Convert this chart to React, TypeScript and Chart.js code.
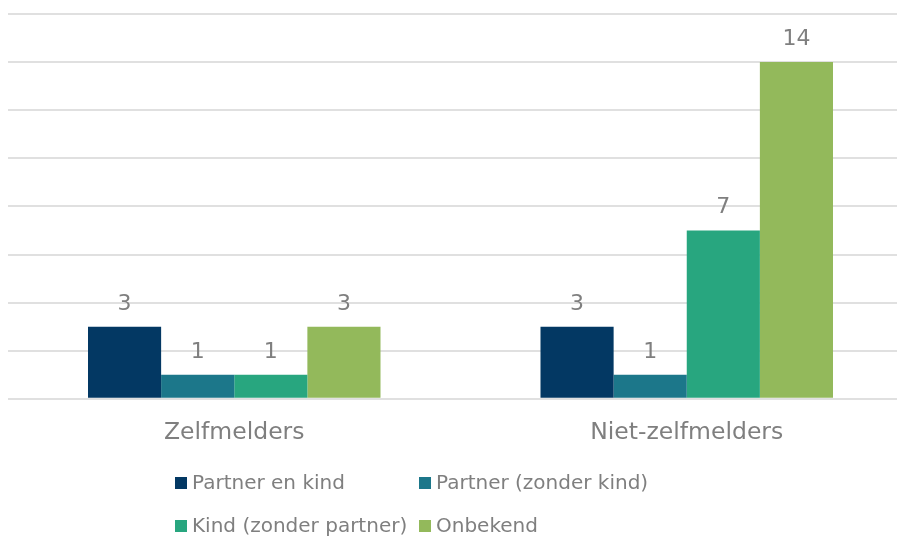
import React, { useEffect, useRef } from "react";
import { Chart, registerables } from "chart.js";

Chart.register(...registerables);

const categories = ["Zelfmelders", "Niet-zelfmelders"];
const seriesNames = ["Partner en kind", "Partner (zonder kind)", "Kind (zonder partner)", "Onbekend"];
const partnerEnKind = [3, 3];
const partnerZonderKind = [1, 1];
const kindZonderPartner = [1, 7];
const onbekend = [3, 14];
const seriesColors = ["#033863", "#1c778a", "#28a67f", "#93b95b"];
const yMax = 16;
const yStep = 2;

const FONT = "'DejaVu Sans', Verdana, sans-serif";
const TEXT = "#7f7f7f";

const valueLabels = {
  id: "valueLabels",
  afterDatasetsDraw(chart: any) {
    const ctx = chart.ctx;
    ctx.save();
    ctx.font = `22px ${FONT}`;
    ctx.fillStyle = TEXT;
    ctx.textAlign = "center";
    ctx.textBaseline = "alphabetic";
    chart.data.datasets.forEach((ds: any, i: number) => {
      const meta = chart.getDatasetMeta(i);
      meta.data.forEach((bar: any, j: number) => {
        ctx.fillText(String(ds.data[j]), bar.x, bar.y - 17);
      });
    });
    ctx.restore();
  },
};

const gridLegend = {
  id: "gridLegend",
  afterDraw(chart: any) {
    const ctx = chart.ctx;
    const left = 167;
    const colW = 244;
    const rowY = [475, 518];
    ctx.save();
    ctx.font = `20px ${FONT}`;
    ctx.textBaseline = "middle";
    ctx.textAlign = "left";
    chart.data.datasets.forEach((ds: any, i: number) => {
      const col = i % 2;
      const row = Math.floor(i / 2);
      const x = left + col * colW;
      const y = rowY[row];
      ctx.fillStyle = ds.backgroundColor;
      ctx.fillRect(x, y - 6, 12, 12);
      ctx.fillStyle = TEXT;
      ctx.fillText(ds.label, x + 17, y + 1);
    });
    ctx.restore();
  },
};

export default function App() {
  const ref = useRef<HTMLCanvasElement>(null);
  useEffect(() => {
    if (!ref.current) return;
    const seriesData = [partnerEnKind, partnerZonderKind, kindZonderPartner, onbekend];
    const chart = new Chart(ref.current, {
      type: "bar",
      data: {
        labels: categories,
        datasets: seriesNames.map((name, i) => ({
          label: name,
          data: seriesData[i],
          backgroundColor: seriesColors[i],
          borderWidth: 0,
          categoryPercentage: 0.6464,
          barPercentage: 1,
        })),
      },
      options: {
        animation: false,
        responsive: false,
        maintainAspectRatio: false,
        layout: { padding: { top: 6, bottom: 75, left: 0, right: 0 } },
        plugins: {
          legend: { display: false },
          tooltip: { enabled: false },
        },
        scales: {
          x: {
            grid: { display: false, drawTicks: false },
            border: { display: false },
            ticks: { color: TEXT, font: { family: FONT, size: 23.5 }, padding: 20 },
          },
          y: {
            min: 0,
            max: yMax,
            ticks: { display: false, stepSize: yStep },
            grid: { color: "#e0e0e0", lineWidth: 2, drawTicks: false },
            border: { display: false },
          },
        },
      },
      plugins: [valueLabels, gridLegend],
    });
    return () => chart.destroy();
  }, []);
  return (
    <div style={{ width: 897, height: 534, overflow: "hidden" }}>
      <canvas ref={ref} width={905} height={534} style={{ display: "block" }} />
    </div>
  );
}
